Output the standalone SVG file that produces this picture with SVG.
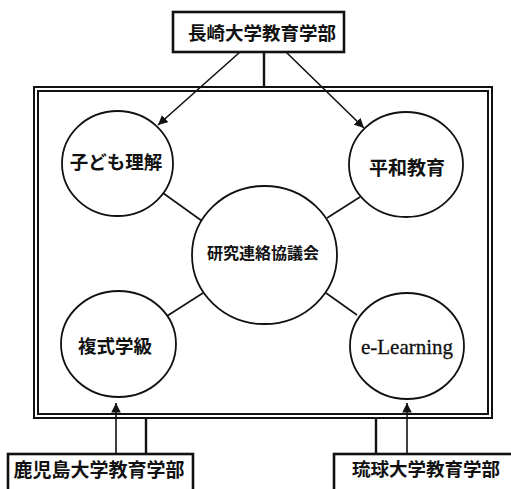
<svg xmlns="http://www.w3.org/2000/svg" width="511" height="489" viewBox="0 0 511 489">
<style>
.box{fill:#fff;stroke:#111;stroke-width:2.6}
.frame{fill:none;stroke:#111;stroke-width:2}
.node{fill:#fff;stroke:#111;stroke-width:1.8}
.ln{stroke:#111;stroke-width:1.6;fill:none}
.ln2{stroke:#111;stroke-width:2.4;fill:none}
.jp{font-family:"Noto Sans CJK JP","Noto Sans CJK SC",sans-serif;font-weight:700;fill:#111;text-anchor:middle;dominant-baseline:central}
.en{font-family:"Liberation Serif",serif;fill:#111;text-anchor:middle;dominant-baseline:central;stroke:#111;stroke-width:0.3}
</style>
<defs>
<marker id="ah" viewBox="0 0 10 10" refX="10" refY="5" markerWidth="6" markerHeight="6" markerUnits="strokeWidth" orient="auto">
<path d="M0,0 L10,5 L0,10 z" fill="#111"/>
</marker>
</defs>
<rect x="0" y="0" width="511" height="489" fill="#fff"/>
<g id="frame">
<rect class="frame" x="34" y="87" width="458" height="331" stroke-width="2.6"/>
<rect class="frame" x="38" y="91" width="450" height="323" stroke-width="1.5"/>
</g>
<g id="connectors">
<line class="ln" x1="240" y1="52" x2="158" y2="125" marker-end="url(#ah)"/>
<line class="ln" x1="286" y1="52" x2="364" y2="128" marker-end="url(#ah)"/>
<line class="ln2" x1="264" y1="52" x2="264" y2="87"/>
<line class="ln" x1="116" y1="454" x2="116" y2="403" marker-end="url(#ah)"/>
<line class="ln2" x1="146" y1="418" x2="146" y2="454"/>
<line class="ln" x1="407" y1="454" x2="407" y2="403" marker-end="url(#ah)"/>
<line class="ln2" x1="376" y1="418" x2="376" y2="454"/>
<line class="ln" x1="163" y1="193" x2="202" y2="221"/>
<line class="ln" x1="360" y1="197" x2="327" y2="218"/>
<line class="ln" x1="203" y1="293" x2="167" y2="316"/>
<line class="ln" x1="326" y1="293" x2="357" y2="315"/>
</g>
<g id="nagasaki">
<rect class="box" x="173" y="12" width="171" height="40"/>
<text class="jp" x="262" y="32" font-size="18.5">長崎大学教育学部</text>
</g>
<g id="kagoshima">
<rect class="box" x="8" y="454" width="185" height="40"/>
<text class="jp" x="99" y="468" font-size="19">鹿児島大学教育学部</text>
</g>
<g id="ryukyu">
<rect class="box" x="334" y="454" width="190" height="40"/>
<text class="jp" x="426" y="468" font-size="18.5">琉球大学教育学部</text>
</g>
<g id="kodomo">
<ellipse class="node" cx="117.5" cy="163.5" rx="55.5" ry="52.5"/>
<text class="jp" x="116" y="161" font-size="18.5">子ども理解</text>
</g>
<g id="heiwa">
<ellipse class="node" cx="406" cy="164.5" rx="57" ry="52.5"/>
<text class="jp" x="407" y="166" font-size="19">平和教育</text>
</g>
<g id="kyogikai">
<ellipse class="node" cx="264.5" cy="255" rx="72.5" ry="69"/>
<text class="jp" x="263" y="252" font-size="16">研究連絡協議会</text>
</g>
<g id="fukushiki">
<ellipse class="node" cx="118.5" cy="344" rx="57.5" ry="53"/>
<text class="jp" x="115" y="345" font-size="18.5">複式学級</text>
</g>
<g id="elearning">
<ellipse class="node" cx="407" cy="346" rx="57" ry="53"/>
<text class="en" x="407" y="347" font-size="21">e-Learning</text>
</g>
</svg>
